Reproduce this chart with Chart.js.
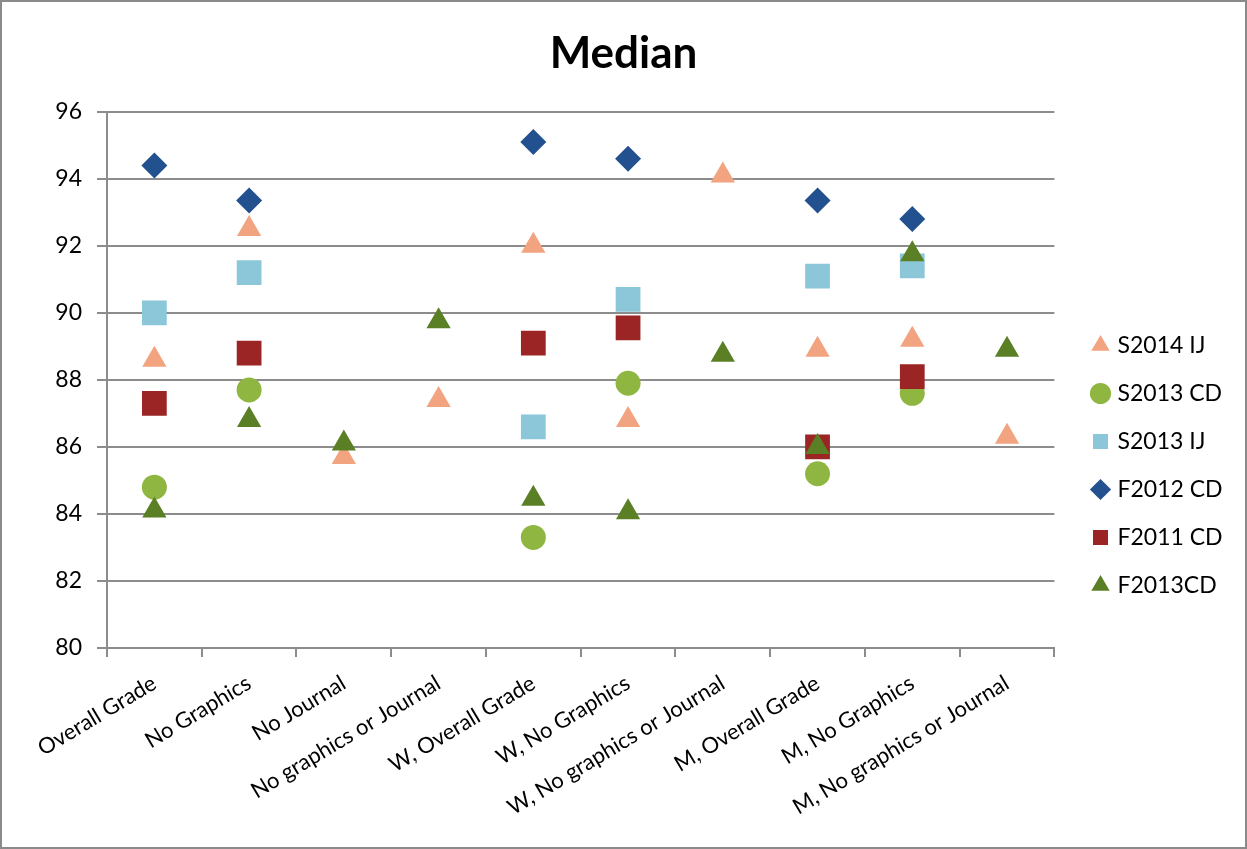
<!DOCTYPE html>
<html>
<head>
<meta charset="utf-8">
<script src="https://cdn.jsdelivr.net/npm/chart.js@4/dist/chart.umd.min.js"></script>
<style>
  html, body { margin: 0; padding: 0; background: #fff; }
  #wrap {
    width: 1247px; height: 849px; box-sizing: border-box;
    border: 2px solid #8a8a8a;
  }
  canvas { display: block; }
</style>
</head>
<body>
<div id="wrap"><canvas id="medianChart" width="1243" height="845"></canvas></div>
<script>
// Kategorie na osi X
const categories = [
  "Overall Grade", "No Graphics", "No Journal", "No graphics or Journal",
  "W, Overall Grade", "W, No Graphics", "W, No graphics or Journal",
  "M, Overall Grade", "M, No Graphics", "M, No graphics or Journal"
]

// Mediany dla poszczególnych semestrów (null = brak punktu)
const s2014IJ = [88.6, 92.5, 85.7, 87.4, 92.0, 86.8, 94.1, 88.9, 89.2, 86.3]
const s2013CD = [84.8, 87.7, null, null, 83.3, 87.9, null, 85.2, 87.6, null]
const s2013IJ = [90.0, 91.2, null, null, 86.6, 90.4, null, 91.1, 91.4, null]
const f2012CD = [94.4, 93.35, null, null, 95.1, 94.6, null, 93.35, 92.8, null]
const f2011CD = [87.3, 88.8, null, null, 89.1, 89.55, null, 86.0, 88.1, null]
const f2013CD = [84.1, 86.8, 86.1, 89.75, 84.45, 84.05, 88.75, 86.0, 91.75, 88.9]

const yTicks = [80, 82, 84, 86, 88, 90, 92, 94, 96]

const font = "Lato, 'Open Sans', sans-serif"

function series(label, data, color, style, radius, order) {
  return {
    label: label,
    data: data,
    showLine: false,
    pointStyle: style,
    pointRadius: radius,
    pointHoverRadius: radius,
    backgroundColor: color,
    borderColor: color,
    borderWidth: 0,
    order: order,
  }
}

// Przesunięcie legendy w miejsce jak na oryginale
const legendPlacer = {
  id: "legendPlacer",
  afterLayout(chart) {
    const lg = chart.legend
    const w = lg.right - lg.left
    const h = lg.bottom - lg.top
    lg.left = 1068
    lg.right = lg.left + w
    lg.top = 307
    lg.bottom = lg.top + h
  },
}

const config = {
  type: "line",
  data: {
    labels: categories,
    datasets: [
      series("S2014 IJ", s2014IJ, "#f2a37f", "triangle", 14, 6),
      series("S2013 CD", s2013CD, "#8fb640", "circle", 12.5, 5),
      series("S2013 IJ", s2013IJ, "#8cc6d9", "rect", 17.5, 4),
      series("F2012 CD", f2012CD, "#23508f", "rectRot", 13, 3),
      series("F2011 CD", f2011CD, "#9a2524", "rect", 17.5, 2),
      series("F2013CD", f2013CD, "#5a7f25", "triangle", 14, 1),
    ],
  },
  options: {
    responsive: false,
    animation: false,
    layout: { padding: { left: 28, right: 28, top: 0, bottom: 0 } },
    plugins: {
      title: {
        display: true,
        text: "Median",
        color: "#000",
        font: { family: font, size: 44, weight: "bold" },
        padding: { top: 25, bottom: 32 },
      },
      legend: {
        position: "right",
        align: "start",
        labels: {
          usePointStyle: true,
          boxWidth: 11,
          boxHeight: 15,
          color: "#000",
          font: { family: font, size: 23 },
          padding: 25,
          sort: (a, b) => a.datasetIndex - b.datasetIndex,
        },
      },
      tooltip: { enabled: false },
    },
    scales: {
      x: {
        type: "category",
        offset: true,
        afterFit: (axis) => { axis.height = 199 },
        grid: {
          offset: true,
          drawOnChartArea: false,
          drawTicks: true,
          tickLength: 9,
          color: "#8c8c8c",
          lineWidth: 2,
        },
        border: { color: "#8c8c8c", width: 2 },
        ticks: {
          color: "#000",
          font: { family: font, size: 22 },
          maxRotation: 31,
          minRotation: 31,
          padding: 13,
          autoSkip: false,
        },
      },
      y: {
        min: 80,
        max: 96,
        afterFit: (axis) => { axis.width = 77 },
        afterBuildTicks: (axis) => { axis.ticks = yTicks.map((v) => ({ value: v })) },
        grid: { color: "#8c8c8c", lineWidth: 2, tickLength: 10 },
        border: { color: "#8c8c8c", width: 2 },
        ticks: {
          color: "#000",
          font: { family: font, size: 23 },
          padding: 15,
        },
      },
    },
  },
  plugins: [legendPlacer],
}

const medianChart = new Chart(document.getElementById("medianChart"), config)
</script>
</body>
</html>
